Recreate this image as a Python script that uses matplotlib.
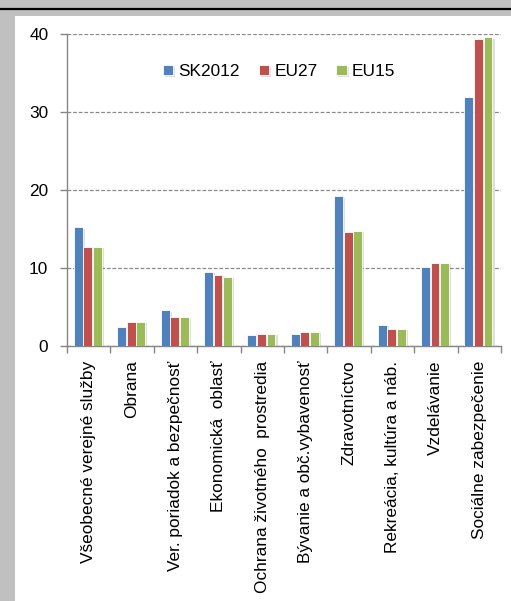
import matplotlib.pyplot as plt
import matplotlib.patheffects as pe
from matplotlib.patches import Rectangle
from matplotlib.lines import Line2D
import numpy as np

plt.rcParams['font.family'] = ['Liberation Sans', 'DejaVu Sans']

# Výdavky podľa funkcií (COFOG), % z celkových výdavkov
categories = [
    'Všeobecné verejné služby',
    'Obrana',
    'Ver. poriadok a bezpečnosť',
    'Ekonomická  oblasť',
    'Ochrana životného  prostredia',
    'Bývanie a obč.vybavenosť',
    'Zdravotníctvo',
    'Rekreácia, kultúra a náb.',
    'Vzdelávanie',
    'Sociálne zabezpečenie',
]
sk2012 = [15.2, 2.5, 4.6, 9.5, 1.4, 1.6, 19.2, 2.7, 10.1, 31.9]
eu27 = [12.7, 3.1, 3.7, 9.1, 1.6, 1.8, 14.6, 2.2, 10.7, 39.4]
eu15 = [12.7, 3.1, 3.7, 8.9, 1.6, 1.8, 14.8, 2.2, 10.7, 39.6]
series_names = ['SK2012', 'EU27', 'EU15']
colors = ['#4f81bd', '#c0504d', '#9bbb59']
y_ticks = [0, 10, 20, 30, 40]

W, H = 511, 601
fs = 12.4
fig = plt.figure(figsize=(W / 100, H / 100), dpi=100, facecolor='#c0c0c0')

# white panel and the dark line across the top
fig.patches.append(Rectangle((15 / W, 0), 1, (H - 16) / H, transform=fig.transFigure,
                             facecolor='white', edgecolor='none', zorder=-10))
fig.lines.append(Line2D([0, 1], [(H - 8.5) / H] * 2, transform=fig.transFigure,
                        color='black', lw=1.6, zorder=-10))

ax = fig.add_axes([67 / W, (H - 346) / H, (501 - 67) / W, (346 - 34) / H])
ax.set_facecolor('none')

x = np.arange(len(categories))
width = 0.205
shadow = [pe.SimplePatchShadow(offset=(1.5, -1), shadow_rgbFace='#808080', alpha=0.25), pe.Normal()]
for i, (vals, name, c) in enumerate(zip([sk2012, eu27, eu15], series_names, colors)):
    bars = ax.bar(x + (i - 1) * 0.22 - 0.02, vals, width, color=c, edgecolor='white',
                  linewidth=0.6, label=name, zorder=3)
    for b in bars:
        b.set_path_effects(shadow)

ax.set_xlim(-0.5, len(categories) - 0.5)
ax.set_ylim(0, 40)
ax.set_yticks(y_ticks)
ax.yaxis.grid(True, color='#8a8a8a', linestyle=(0, (3, 1.5)), linewidth=0.9, zorder=0)
ax.set_axisbelow(True)

ax.set_xticks(x)
ax.set_xticklabels(categories, rotation=90, ha='center', va='top', fontsize=fs)
ax.set_xticks(np.arange(-0.5, len(categories)), minor=True)
ax.tick_params(axis='x', which='major', length=0, pad=10.5)
ax.tick_params(axis='x', which='minor', length=5, color='#868686', width=1, direction='out')
ax.tick_params(axis='y', length=5, color='#868686', width=1, direction='out', pad=8.5, labelsize=fs)

for s in ['top', 'right']:
    ax.spines[s].set_visible(False)
for s in ['left', 'bottom']:
    ax.spines[s].set_color('#868686')
    ax.spines[s].set_linewidth(1)

fig.legend(loc='center', bbox_to_anchor=(279 / W, (H - 72) / H), ncol=3, frameon=False,
           fontsize=fs, handlelength=0.6, handleheight=0.5, handletextpad=0.3,
           columnspacing=1.1, borderpad=0)

fig.savefig('out.png', dpi=100, facecolor=fig.get_facecolor())
